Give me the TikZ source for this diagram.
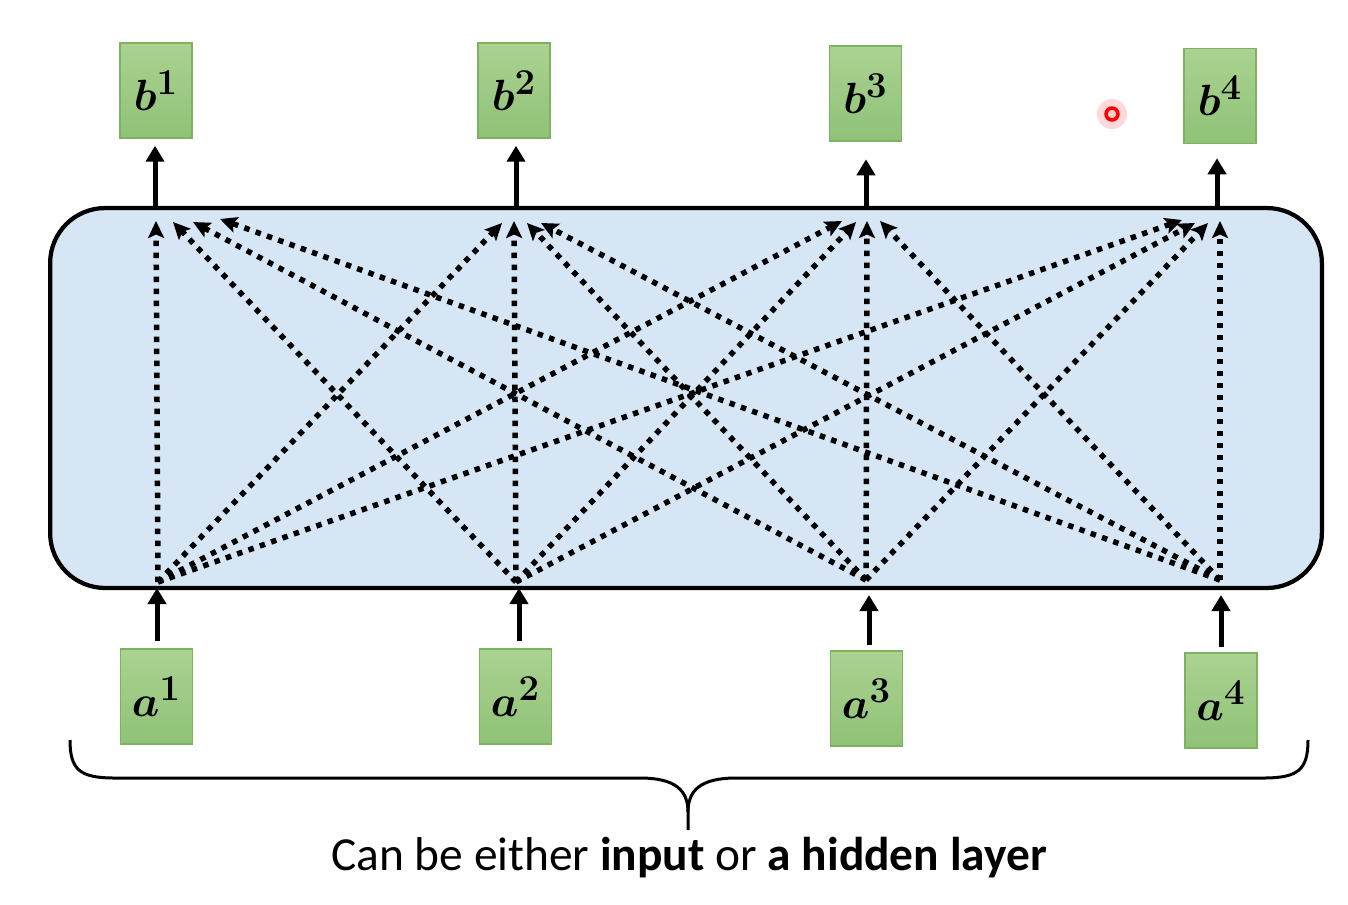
\documentclass[tikz,border=0pt]{standalone}
\usepackage[no-math]{fontspec}
\setmainfont{Carlito}
\usepackage{amsmath,bm}
\usetikzlibrary{arrows.meta}
\definecolor{boxtop}{HTML}{ABD291}
\definecolor{boxbot}{HTML}{8FC277}
\definecolor{boxedge}{HTML}{7DB263}
\definecolor{panelfill}{HTML}{D6E6F5}
\tikzset{
  lbl/.style={rectangle, draw=boxedge, line width=0.8pt, top color=boxtop, bottom color=boxbot,
    minimum width=1.44cm, minimum height=1.9cm, inner sep=0pt, font=\fontsize{30}{34}\selectfont},
  panelbox/.style={rectangle, draw=black, fill=panelfill, line width=0.085cm, rounded corners=1.1cm,
    minimum width=25.44cm, minimum height=7.6cm, inner sep=0pt},
  dotarrow/.style={line width=0.11cm, dash pattern=on 0.11cm off 0.13cm,
    -{Stealth[length=0.34cm,width=0.32cm,inset=0.07cm]}},
  solidarrow/.style={line width=0.1cm, -{Triangle[length=0.32cm,width=0.36cm]}},
  bracestyle/.style={line width=0.06cm},
  captext/.style={font=\fontsize{27}{31}\selectfont, inner sep=0pt}
}
\begin{document}
\begin{tikzpicture}[x=0.02cm,y=-0.02cm]
\useasboundingbox (0,0) rectangle (1348,904);
% panel
\node[panelbox] (layer) at (686,398) {};
% output boxes
\node[lbl] (b1) at (156,90.5) {$\bm{b}^{\mathbf{1}}$};
\node[lbl] (b2) at (514,90.5) {$\bm{b}^{\mathbf{2}}$};
\node[lbl] (b3) at (865.5,93.5) {$\bm{b}^{\mathbf{3}}$};
\node[lbl] (b4) at (1220,96) {$\bm{b}^{\mathbf{4}}$};
% input boxes
\node[lbl] (a1) at (156.5,696.5) {$\bm{a}^{\mathbf{1}}$};
\node[lbl] (a2) at (515.5,696.5) {$\bm{a}^{\mathbf{2}}$};
\node[lbl] (a3) at (866.5,698.5) {$\bm{a}^{\mathbf{3}}$};
\node[lbl] (a4) at (1221,700.5) {$\bm{a}^{\mathbf{4}}$};
% top solid arrows
\coordinate (o1) at (155,208);
\coordinate (o2) at (516,208);
\coordinate (o3) at (866,208);
\coordinate (o4) at (1217,208);
\draw[solidarrow, shorten >=4] (o1) -- (o1 |- b1.south);
\draw[solidarrow, shorten >=4] (o2) -- (o2 |- b2.south);
\draw[solidarrow, shorten >=10] (o3) -- (o3 |- b3.south);
\draw[solidarrow, shorten >=8] (o4) -- (o4 |- b4.south);
% bottom solid arrows
\coordinate (i1) at (157,588);
\coordinate (i2) at (519,588);
\coordinate (i3) at (869,595);
\coordinate (i4) at (1221,595);
\draw[solidarrow, shorten <=4] (i1 |- a1.north) -- (i1);
\draw[solidarrow, shorten <=4] (i2 |- a2.north) -- (i2);
\draw[solidarrow, shorten <=3] (i3 |- a3.north) -- (i3);
\draw[solidarrow, shorten <=3] (i4 |- a4.north) -- (i4);
% sources
\coordinate (s1) at (158,582);
\coordinate (s2) at (516,582);
\coordinate (s3) at (866,580);
\coordinate (s4) at (1220,580);
% tips t<i><j>: from a_i to b_j
\coordinate (t11) at (156,221);
\coordinate (t21) at (173,222);
\coordinate (t31) at (193,222);
\coordinate (t41) at (220,219);
\coordinate (t12) at (502,223);
\coordinate (t22) at (514,221);
\coordinate (t32) at (527,223);
\coordinate (t42) at (541,223);
\coordinate (t13) at (842,221);
\coordinate (t23) at (856,222);
\coordinate (t33) at (867,221);
\coordinate (t43) at (880,221);
\coordinate (t14) at (1182,220);
\coordinate (t24) at (1195,223);
\coordinate (t34) at (1208,223);
\coordinate (t44) at (1220,221);
\foreach \i in {1,2,3,4}{
  \foreach \j in {1,2,3,4}{
    \draw[dotarrow] (s\i) -- (t\i\j);
  }
}
% red pointer dot
\node[circle, fill=red, opacity=0.15, minimum size=0.6cm, inner sep=0pt] (glow) at (1112,114) {};
\node[circle, draw=red, fill=red!20, line width=0.07cm, minimum size=0.24cm, inner sep=0pt] (dot) at (1112,114) {};
% brace
\coordinate (bl) at (70,740);
\coordinate (br) at (1308,740);
\coordinate (btip) at (688,830);
\draw[bracestyle] (bl) .. controls (70,770) and (80,778) .. (115,778) -- (640,778)
  .. controls (675,778) and (688,790) .. (688,812) -- (btip);
\draw[bracestyle] (br) .. controls (1308,770) and (1298,778) .. (1263,778) -- (736,778)
  .. controls (701,778) and (688,790) .. (688,812);
% caption
\node[captext] (cap) at (689,858) {Can be either \textbf{input} or \textbf{a hidden layer}};
\end{tikzpicture}
\end{document}
